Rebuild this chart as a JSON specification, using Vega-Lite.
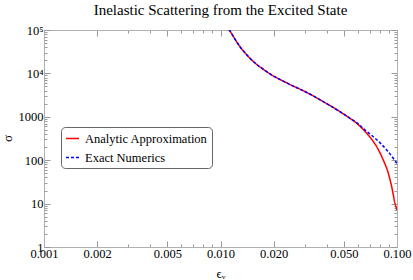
{
  "$schema": "https://vega.github.io/schema/vega-lite/v6.json",
  "width": 353,
  "height": 217,
  "autosize": {"type": "none"},
  "padding": {"left": 44, "top": 30, "right": 16, "bottom": 33},
  "background": "white",
  "title": {"text": "Inelastic Scattering from the Excited State", "font": "Liberation Serif", "fontSize": 15, "fontWeight": "normal", "color": "black", "offset": 6},
  "config": {"view": {"stroke": null}, "font": "Liberation Serif"},
  "data": {"values": [
    {"s": "Analytic Approximation", "x": 0.0108, "y": 127000},
    {"s": "Analytic Approximation", "x": 0.01122, "y": 100000},
    {"s": "Analytic Approximation", "x": 0.0129, "y": 41200},
    {"s": "Analytic Approximation", "x": 0.01469, "y": 22300},
    {"s": "Analytic Approximation", "x": 0.01827, "y": 10940},
    {"s": "Analytic Approximation", "x": 0.0242, "y": 5800},
    {"s": "Analytic Approximation", "x": 0.0312, "y": 3550},
    {"s": "Analytic Approximation", "x": 0.03824, "y": 2228},
    {"s": "Analytic Approximation", "x": 0.04753, "y": 1312},
    {"s": "Analytic Approximation", "x": 0.05418, "y": 923},
    {"s": "Analytic Approximation", "x": 0.0591, "y": 708},
    {"s": "Analytic Approximation", "x": 0.0673, "y": 417},
    {"s": "Analytic Approximation", "x": 0.0767, "y": 205},
    {"s": "Analytic Approximation", "x": 0.0836, "y": 101},
    {"s": "Analytic Approximation", "x": 0.0893, "y": 49.9},
    {"s": "Analytic Approximation", "x": 0.0933, "y": 24.5},
    {"s": "Analytic Approximation", "x": 0.0974, "y": 10.2},
    {"s": "Analytic Approximation", "x": 0.1, "y": 7.1},
    {"s": "Exact Numerics", "x": 0.0108, "y": 127000},
    {"s": "Exact Numerics", "x": 0.01122, "y": 100000},
    {"s": "Exact Numerics", "x": 0.0129, "y": 41200},
    {"s": "Exact Numerics", "x": 0.01469, "y": 22300},
    {"s": "Exact Numerics", "x": 0.01827, "y": 10940},
    {"s": "Exact Numerics", "x": 0.0242, "y": 5800},
    {"s": "Exact Numerics", "x": 0.0312, "y": 3550},
    {"s": "Exact Numerics", "x": 0.03824, "y": 2228},
    {"s": "Exact Numerics", "x": 0.04753, "y": 1312},
    {"s": "Exact Numerics", "x": 0.05418, "y": 923},
    {"s": "Exact Numerics", "x": 0.0600, "y": 700},
    {"s": "Exact Numerics", "x": 0.0659, "y": 497},
    {"s": "Exact Numerics", "x": 0.0734, "y": 348},
    {"s": "Exact Numerics", "x": 0.0874, "y": 172},
    {"s": "Exact Numerics", "x": 0.1, "y": 85}
  ]},
  "layer": [
    {
      "mark": {"type": "line", "strokeWidth": 1.5, "interpolate": "monotone", "clip": true},
      "encoding": {
        "x": {"field": "x", "type": "quantitative",
          "scale": {"type": "log", "domain": [0.001, 0.1], "nice": false},
          "axis": {"orient": "bottom", "title": "ϵᵥ", "titleFont": "Liberation Serif", "titleFontSize": 13, "titleFontWeight": "normal", "titleColor": "black", "titleBaseline": "alphabetic", "titleY": 30,
            "values": [0.001,0.002,0.003,0.004,0.005,0.006,0.007,0.008,0.009,0.01,0.02,0.03,0.04,0.05,0.06,0.07,0.08,0.09,0.1],
            "labelExpr": "indexof(['0.001','0.002','0.005','0.010','0.020','0.050','0.100'], format(datum.value, '.3f')) >= 0 ? format(datum.value, '.3f') : ''",
            "labelOverlap": false, "labelFlush": false, "labelFont": "Liberation Serif", "labelFontSize": 12.5, "labelColor": "black", "labelPadding": 6,
            "tickSize": {"condition": {"test": "indexof(['0.001','0.002','0.005','0.010','0.020','0.050','0.100'], format(datum.value, '.3f')) >= 0", "value": -6}, "value": -3},
            "tickColor": "#999999", "domainColor": "#b0b0b0", "grid": false}},
        "y": {"field": "y", "type": "quantitative",
          "scale": {"type": "log", "domain": [1, 100000], "nice": false},
          "axis": {"orient": "left", "title": "σ", "titleFont": "Liberation Serif", "titleFontSize": 13, "titleFontWeight": "normal", "titleColor": "black", "titleX": -30, "titleY": 108, "titleBaseline": "bottom",
            "values": [1,2,3,4,5,6,7,8,9,10,20,30,40,50,60,70,80,90,100,200,300,400,500,600,700,800,900,1000,2000,3000,4000,5000,6000,7000,8000,9000,10000,20000,30000,40000,50000,60000,70000,80000,90000,100000],
            "labelExpr": "format(datum.value,'.0f') == '100000' ? '10⁵' : format(datum.value,'.0f') == '10000' ? '10⁴' : (indexof(['1','10','100','1000'], format(datum.value,'.0f')) >= 0 ? format(datum.value,'.0f') : '')",
            "labelOverlap": false, "labelFlush": false, "labelFont": "Liberation Serif", "labelFontSize": 12.5, "labelColor": "black", "labelPadding": 7,
            "tickSize": {"condition": {"test": "indexof(['1','10','100','1000','10000','100000'], format(datum.value,'.0f')) >= 0", "value": -6}, "value": -3},
            "tickColor": "#999999", "domainColor": "#b0b0b0", "grid": false}},
        "color": {"field": "s", "type": "nominal",
          "scale": {"domain": ["Analytic Approximation", "Exact Numerics"], "range": ["#ff0000", "#0000ff"]},
          "legend": {"title": null, "orient": "none", "legendX": 17, "legendY": 97, "strokeColor": "#666666", "fillColor": "white", "cornerRadius": 4, "padding": 4, "symbolType": "stroke", "symbolSize": 169, "symbolStrokeWidth": 1.3, "labelFont": "Liberation Serif", "labelFontSize": 12.5, "labelColor": "black", "labelOffset": 5, "rowPadding": 5}},
        "strokeDash": {"field": "s", "type": "nominal",
          "scale": {"domain": ["Analytic Approximation", "Exact Numerics"], "range": [[1, 0], [3, 2]]},
          "legend": {"title": null, "orient": "none", "legendX": 17, "legendY": 97, "strokeColor": "#666666", "fillColor": "white", "cornerRadius": 4, "padding": 4, "symbolType": "stroke", "symbolSize": 169, "symbolStrokeWidth": 1.3, "labelFont": "Liberation Serif", "labelFontSize": 12.5, "labelColor": "black", "labelOffset": 5, "rowPadding": 5}}
      }
    },
    {
      "mark": {"type": "line", "opacity": 0, "clip": true},
      "encoding": {
        "x": {"field": "x", "type": "quantitative",
          "scale": {"type": "log", "domain": [0.001, 0.1], "nice": false},
          "axis": {"orient": "top", "title": null, "labels": false,
            "values": [0.001,0.002,0.003,0.004,0.005,0.006,0.007,0.008,0.009,0.01,0.02,0.03,0.04,0.05,0.06,0.07,0.08,0.09,0.1],
            "tickSize": {"condition": {"test": "indexof(['0.001','0.002','0.005','0.010','0.020','0.050','0.100'], format(datum.value, '.3f')) >= 0", "value": -6}, "value": -3},
            "tickColor": "#999999", "domainColor": "#b0b0b0", "grid": false}},
        "y": {"field": "y", "type": "quantitative",
          "scale": {"type": "log", "domain": [1, 100000], "nice": false},
          "axis": {"orient": "right", "title": null, "labels": false,
            "values": [1,2,3,4,5,6,7,8,9,10,20,30,40,50,60,70,80,90,100,200,300,400,500,600,700,800,900,1000,2000,3000,4000,5000,6000,7000,8000,9000,10000,20000,30000,40000,50000,60000,70000,80000,90000,100000],
            "tickSize": {"condition": {"test": "indexof(['1','10','100','1000','10000','100000'], format(datum.value,'.0f')) >= 0", "value": -6}, "value": -3},
            "tickColor": "#999999", "domainColor": "#b0b0b0", "grid": false}},
        "detail": {"field": "s"}
      }
    }
  ],
  "resolve": {"axis": {"x": "independent", "y": "independent"}}
}
